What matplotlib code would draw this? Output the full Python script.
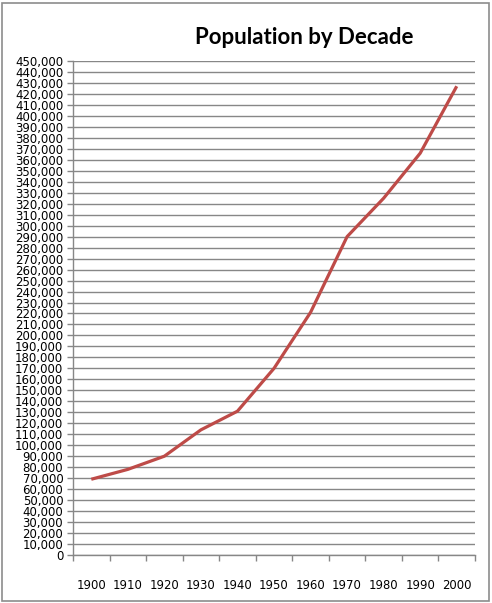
import numpy as np
import matplotlib.pyplot as plt
from matplotlib.patches import Rectangle
from matplotlib.ticker import FuncFormatter, MultipleLocator

# data
decades = ['1900', '1910', '1920', '1930', '1940', '1950',
           '1960', '1970', '1980', '1990', '2000']
population = [69000, 78000, 90000, 114000, 131000, 170000,
              221000, 290000, 325000, 366000, 427000]

W, H = 492, 603
fig = plt.figure(figsize=(W / 100, H / 100), dpi=100)
fig.patch.set_facecolor('white')

# outer chart border
fig.patches.append(Rectangle((2 / W, 2 / H), 487 / W, 598 / H, transform=fig.transFigure,
                             fill=False, edgecolor='#8c8c8c', linewidth=1.2))

# plot area in pixel coords: x 73..475, y 61..555
ax = fig.add_axes([73 / W, 1 - 555 / H, (475 - 73) / W, (555 - 61) / H])

grid_col = '#878787'
x = np.arange(len(decades)) + 0.5
ax.plot(x, population, color='#BE4B48', linewidth=2.3, solid_capstyle='butt')

ax.set_xlim(0, len(decades))
ax.set_ylim(0, 450000)

ax.yaxis.set_major_locator(MultipleLocator(10000))
ax.yaxis.set_major_formatter(FuncFormatter(lambda v, p: f'{int(v):,}'))
ax.grid(axis='y', color=grid_col, linewidth=1.0)
ax.set_axisbelow(True)

# category axis: tick marks on boundaries, labels centred
ax.set_xticks(np.arange(len(decades) + 1))
ax.set_xticklabels([])
ax.set_xticks(x, minor=True)
ax.set_xticklabels(decades, minor=True)
ax.tick_params(axis='x', which='major', direction='out', length=4, color=grid_col, width=1)
ax.tick_params(axis='x', which='minor', length=0, pad=17, labelsize=8.4, labelcolor='black')
ax.tick_params(axis='y', direction='out', length=4, color=grid_col, width=1,
               pad=3, labelsize=8.5, labelcolor='black')

for side in ['top', 'right']:
    ax.spines[side].set_visible(False)
for side in ['left', 'bottom']:
    ax.spines[side].set_color(grid_col)
    ax.spines[side].set_linewidth(1.0)

fig.text(304 / W, 1 - 37 / H, 'Population by Decade', ha='center', va='center',
         fontsize=16, fontweight='bold', family='Lato')

fig.savefig('out.png', dpi=100)
